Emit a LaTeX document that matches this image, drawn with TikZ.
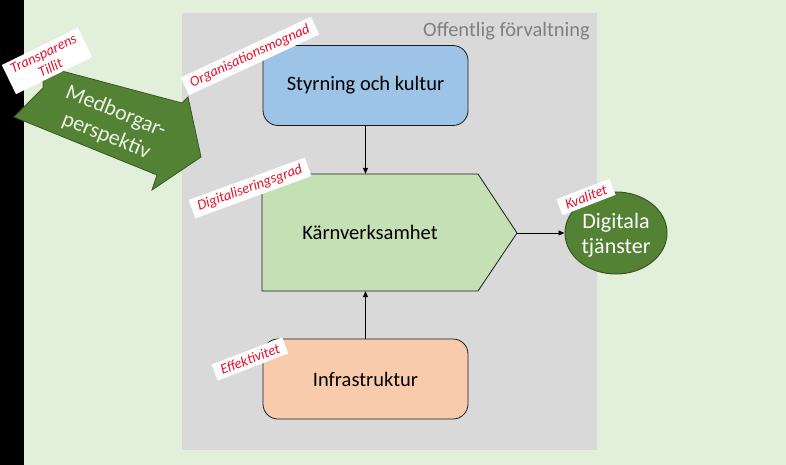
\documentclass[tikz,border=0pt]{standalone}
\usepackage{fontspec}
\setmainfont{Carlito}
\usetikzlibrary{arrows.meta,shapes.geometric}
\definecolor{bglight}{HTML}{E2EFDA}
\definecolor{grayarea}{HTML}{D9D9D9}
\definecolor{offgray}{HTML}{7F7F7F}
\definecolor{bluebox}{HTML}{9DC3E6}
\definecolor{kvgreen}{HTML}{C5E0B4}
\definecolor{orangebox}{HTML}{F8CBAD}
\definecolor{darkgreen}{HTML}{548235}
\definecolor{darkedge}{HTML}{385723}
\definecolor{edgecol}{HTML}{1A1A1A}
\definecolor{labred}{HTML}{E8112D}
\definecolor{medtext}{HTML}{EAF3E4}
\begin{document}
\begin{tikzpicture}[x=1pt,y=-1pt,
  box/.style={draw=edgecol, line width=0.8pt, rounded corners=15pt, minimum width=205pt, minimum height=80pt, inner sep=0pt, font=\fontsize{20.5}{24}\selectfont},
  lbl/.style={fill=white, text=labred, font=\itshape\fontsize{14.5}{16}\selectfont, align=center, inner xsep=6.5pt, inner ysep=3.5pt},
  conn/.style={draw=black, line width=0.8pt, -{Triangle[length=6pt,width=5pt]}}
]
\useasboundingbox (0,0) rectangle (786,465);
\fill[bglight] (0,0) rectangle (786,465);
\fill[black] (0,0) rectangle (24,465);
\fill[grayarea] (182,13) rectangle (597,450);
\node[anchor=east, text=offgray, font=\fontsize{20.5}{24}\selectfont, inner sep=0pt] (off) at (590,31) {Offentlig förvaltning};

% Medborgarperspektiv arrow
\draw[fill=darkgreen, draw=darkedge, line width=0.8pt] (14,117) -- (43,88) -- (43,66) -- (182,103) -- (188,97) -- (201,157) -- (152,190) -- (157,175) -- cycle;
\node[rotate=-22, text=medtext, font=\fontsize{22}{26}\selectfont, align=center] (med) at (111,124) {Medborgar-\\perspektiv};

% boxes
\node[box, fill=bluebox] (sty) at (365.5,85.5) {Styrning och kultur};
\node[box, fill=orangebox] (infra) at (365.5,379) {Infrastruktur};

\draw[fill=kvgreen, draw=edgecol, line width=0.8pt] (262,174) -- (478,174) -- (517,233) -- (478,291) -- (262,291) -- cycle;
\node[minimum width=216pt, minimum height=117pt, inner sep=0pt, font=\fontsize{20.5}{24}\selectfont] (kv) at (370,232.5) {Kärnverksamhet};
\coordinate (kvtip) at (517,233);

\node[ellipse, draw=darkedge, line width=1pt, fill=darkgreen, minimum width=102pt, minimum height=82pt, inner sep=0pt] (dig) at (616,233) {};
\node[text=white, align=center, font=\fontsize{22}{25}\selectfont] (digtxt) at (616,235) {Digitala\\tjänster};

% connectors
\draw[conn] (sty.south) -- (sty.south |- kv.north);
\draw[conn] (infra.north) -- (infra.north |- kv.south);
\draw[conn] (kvtip) -- (dig);

% labels
\node[lbl, rotate=26] (l1) at (47,61) {Transparens\\Tillit};
\node[lbl, rotate=25] (l2) at (250,56) {Organisationsmognad};
\node[lbl, rotate=20] (l3) at (250,188) {Digitaliseringsgrad};
\node[lbl, rotate=21] (l4) at (586,197) {Kvalitet};
\node[lbl, rotate=21] (l5) at (250,359) {Effektivitet};
\end{tikzpicture}
\end{document}
